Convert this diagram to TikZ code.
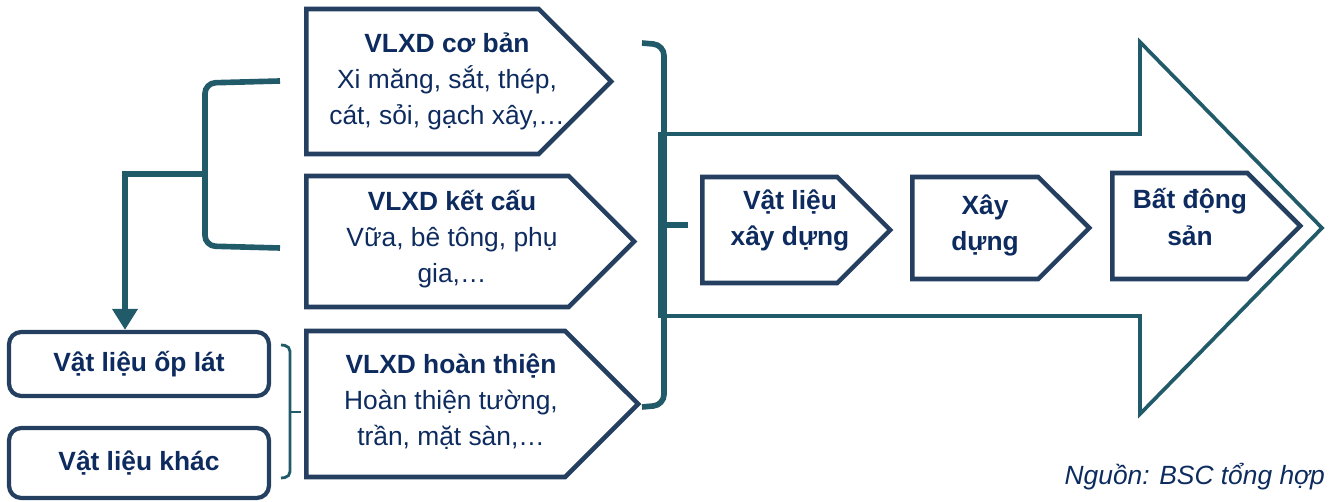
\documentclass[tikz,border=0pt]{standalone}
\usepackage{fontspec}
\setmainfont{Liberation Sans}
\usetikzlibrary{shapes.symbols,arrows.meta}
\definecolor{textnavy}{HTML}{0D2B5E}
\definecolor{edgeslate}{HTML}{243F60}
\definecolor{bracketteal}{HTML}{215A68}
\tikzset{
  pent/.style 2 args={signal, signal to=east, draw=edgeslate, line width=2.6pt,
    minimum width=#1, minimum height=#2, inner sep=0pt, anchor=west},
  txt/.style={text=textnavy, align=center, font=\fontsize{15}{20.5}\selectfont},
  boldtxt/.style={txt, font=\fontsize{15}{20.5}\selectfont\bfseries},
  smallbox/.style 2 args={draw=edgeslate, line width=2.4pt, rounded corners=7pt,
    minimum width=#1, minimum height=#2, inner sep=0pt},
  brk/.style={draw=bracketteal, line width=3.2pt, rounded corners=6pt},
}
\begin{document}
\begin{tikzpicture}[x=0.02cm, y=-0.02cm]
  \useasboundingbox (0,0) rectangle (1331,502);

  % mui ten lon
  \draw[bracketteal, line width=2.1pt, line join=miter]
    (660,134) -- (1140,134) -- (1140,42) -- (1322,228) -- (1140,414)
    -- (1140,316) -- (660,316) -- cycle;

  % ba nhom vat lieu
  \node[pent={6.10cm}{2.90cm}] (p1) at (304,81.5) {};
  \node[pent={6.56cm}{2.62cm}] (p2) at (304,241.5) {};
  \node[pent={6.64cm}{2.92cm}] (p3) at (304,404) {};
  \node[txt] (t1) at (447,81) {\textbf{VLXD cơ bản}\\Xi măng, sắt, thép,\\cát, sỏi, gạch xây,…};
  \node[txt] (t2) at (452,239) {\textbf{VLXD kết cấu}\\Vữa, bê tông, phụ\\gia,…};
  \node[txt] (t3) at (451,402) {\textbf{VLXD hoàn thiện}\\Hoàn thiện tường,\\trần, mặt sàn,…};

  % chuoi gia tri
  \node[pent={3.76cm}{2.12cm}] (p4) at (700,230) {};
  \node[pent={3.54cm}{2.04cm}] (p5) at (910,228) {};
  \node[pent={3.76cm}{2.12cm}] (p6) at (1110,226) {};
  \node[boldtxt] (t4) at (790,220) {Vật liệu\\xây dựng};
  \node[boldtxt] (t5) at (985,225) {Xây\\dựng};
  \node[boldtxt] (t6) at (1190,217) {Bất động\\sản};

  % vat lieu hoan thien
  \node[smallbox={5.20cm}{1.28cm}, boldtxt] (a1) at (139,364) {Vật liệu ốp lát};
  \node[smallbox={5.20cm}{1.40cm}, boldtxt] (a2) at (139,463) {Vật liệu khác};

  % ngoac trai
  \coordinate (g1) at (280,81);
  \coordinate (g2) at (280,248);
  \coordinate (gm) at (205,174);
  \coordinate (drop) at (125,174);
  \draw[brk] (g1) -- (205,83) -- (205,246) -- (g2);
  \draw[brk, rounded corners=0pt, -{Triangle[length=12pt, width=14pt]}]
    (gm) -- (drop) -- (drop |- a1.north);

  % ngoac nho
  \coordinate (s1) at (281,345);
  \coordinate (s2) at (281,478);
  \coordinate (sm) at (301,412);
  \draw[brk, line width=1.6pt, rounded corners=3pt] (s1) -- (290,346) -- (290,477) -- (s2);
  \draw[brk, line width=1.6pt] (290,412) -- (sm);

  % ngoac lon
  \coordinate (b1) at (642,43);
  \coordinate (b2) at (642,407);
  \coordinate (bm) at (688,225);
  \draw[brk] (b1) -- (664,45) -- (664,405) -- (b2);
  \draw[brk, rounded corners=0pt] (664,225) -- (bm);

  % nguon
  \node[txt, anchor=east, font=\fontsize{15}{20.5}\selectfont\itshape] (src) at (1331,477) {Nguồn: BSC tổng hợp};
\end{tikzpicture}
\end{document}
